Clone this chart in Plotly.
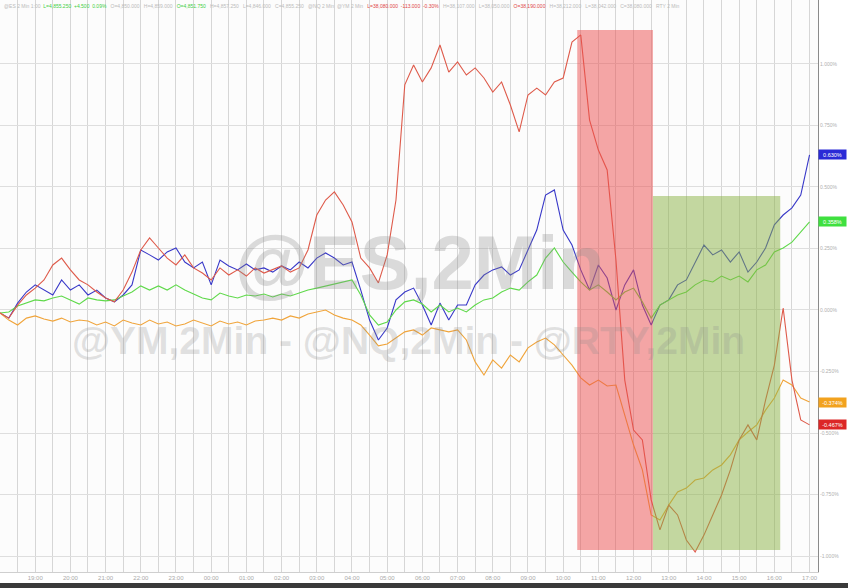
import pandas as pd
import plotly.graph_objects as go

# ---- data (percent change, 15-minute samples) ----
start_time = "2024-01-01 18:00"
n_points = 93
times = pd.date_range(start_time, periods=n_points, freq="15min")

nq_blue = [-0.012, -0.033, 0.028, 0.073, 0.102, 0.081, 0.061, 0.122, 0.081, 0.102,
           0.061, 0.081, 0.049, 0.033, 0.061, 0.102, 0.244, 0.224, 0.203, 0.236,
           0.252, 0.195, 0.171, 0.195, 0.102, 0.203, 0.179, 0.163, 0.187, 0.163,
           0.171, 0.154, 0.179, 0.163, 0.195, 0.171, 0.211, 0.232, 0.211, 0.183,
           0.195, 0.081, -0.041, -0.122, -0.073, 0.041, 0.073, 0.089, 0.020, -0.061,
           0.028, -0.041, 0.020, 0.020, 0.102, 0.142, 0.163, 0.175, 0.142, 0.163,
           0.244, 0.325, 0.467, 0.488, 0.325, 0.264, 0.163, 0.081, 0.183, 0.130,
           0.000, 0.102, 0.163, 0.020, -0.061, 0.020, 0.041, 0.102, 0.122, 0.195,
           0.264, 0.224, 0.244, 0.195, 0.236, 0.154, 0.195, 0.252, 0.346, 0.386,
           0.415, 0.467, 0.630]

es_green = [-0.012, -0.008, 0.016, 0.028, 0.041, 0.037, 0.049, 0.057, 0.041, 0.024,
            0.049, 0.041, 0.037, 0.041, 0.057, 0.073, 0.098, 0.081, 0.098, 0.081,
            0.102, 0.081, 0.065, 0.049, 0.041, 0.069, 0.057, 0.049, 0.061, 0.057,
            0.065, 0.053, 0.065, 0.057, 0.069, 0.081, 0.089, 0.098, 0.106, 0.114,
            0.122, 0.061, -0.020, -0.061, -0.049, 0.000, 0.033, 0.041, 0.024, -0.008,
            0.020, -0.008, 0.008, -0.008, 0.020, 0.041, 0.049, 0.073, 0.089, 0.081,
            0.114, 0.142, 0.211, 0.252, 0.195, 0.154, 0.114, 0.081, 0.102, 0.073,
            0.041, 0.073, 0.089, 0.033, -0.033, 0.020, 0.041, 0.061, 0.073, 0.102,
            0.122, 0.114, 0.138, 0.122, 0.138, 0.114, 0.163, 0.183, 0.236, 0.252,
            0.276, 0.317, 0.358]

ym_orange = [-0.012, -0.041, -0.061, -0.033, -0.024, -0.037, -0.045, -0.033, -0.049, -0.041,
             -0.045, -0.061, -0.049, -0.065, -0.041, -0.053, -0.061, -0.041, -0.057, -0.049,
             -0.065, -0.057, -0.041, -0.053, -0.065, -0.045, -0.057, -0.049, -0.061, -0.045,
             -0.041, -0.033, -0.041, -0.024, -0.033, -0.016, -0.008, 0.000, -0.020, -0.033,
             -0.041, -0.061, -0.102, -0.146, -0.138, -0.114, -0.089, -0.081, -0.102, -0.073,
             -0.081, -0.089, -0.081, -0.122, -0.211, -0.264, -0.203, -0.236, -0.183, -0.211,
             -0.154, -0.130, -0.114, -0.142, -0.183, -0.224, -0.276, -0.305, -0.285, -0.309,
             -0.305, -0.427, -0.549, -0.650, -0.833, -0.854, -0.793, -0.740, -0.724, -0.691,
             -0.683, -0.650, -0.630, -0.589, -0.528, -0.496, -0.467, -0.407, -0.358, -0.285,
             -0.305, -0.358, -0.374]

rty_red = [-0.012, -0.033, 0.020, 0.061, 0.089, 0.122, 0.183, 0.211, 0.163, 0.122,
           0.102, 0.073, 0.049, 0.033, 0.081, 0.154, 0.244, 0.293, 0.252, 0.211,
           0.183, 0.224, 0.171, 0.150, 0.122, 0.171, 0.142, 0.163, 0.138, 0.171,
           0.150, 0.163, 0.179, 0.154, 0.171, 0.244, 0.386, 0.447, 0.480, 0.427,
           0.358, 0.211, 0.171, 0.110, 0.224, 0.447, 0.915, 0.996, 0.927, 0.984,
           1.077, 0.967, 1.008, 0.955, 0.984, 0.943, 0.886, 0.927, 0.833, 0.724,
           0.874, 0.902, 0.874, 0.927, 0.943, 1.089, 1.118, 0.772, 0.650, 0.569,
           0.203, -0.285, -0.488, -0.528, -0.772, -0.894, -0.793, -0.833, -0.935, -0.984,
           -0.915, -0.833, -0.752, -0.650, -0.528, -0.467, -0.528, -0.366, -0.224, 0.008,
           -0.285, -0.447, -0.467]

series_names = ["@NQ,2Min", "@ES,2Min", "@YM,2Min", "@RTY,2Min"]
series_values = [nq_blue, es_green, ym_orange, rty_red]
series_colors = ["#3838c8", "#5fd94a", "#f0a43a", "#de5a4a"]
label_colors = ["#2a2ad6", "#3fe03f", "#f2a21e", "#dc2626"]

y_tick_values = [1.0, 0.75, 0.5, 0.25, 0.0, -0.25, -0.5, -0.75, -1.0]
y_tick_labels = ["1.000%", "0.750%", "0.500%", "0.250%", "0.000%",
                 "-0.250%", "-0.500%", "-0.750%", "-1.000%"]

# shaded periods: (start, end, top, bottom)
red_period = ("2024-01-02 10:24", "2024-01-02 12:33", 1.138, -0.976)
green_period = ("2024-01-02 12:33", "2024-01-02 16:10", 0.463, -0.976)

x_range = ["2024-01-01 18:00", "2024-01-02 17:14:24"]
y_range = [-1.065, 1.26]

fig = go.Figure()
for name, vals, col in zip(series_names, series_values, series_colors):
    fig.add_trace(go.Scatter(x=times, y=vals, mode="lines", name=name,
                             line=dict(color=col, width=1.1), showlegend=False))

for (x0, x1, y1, y0), col in [(red_period, "rgba(236,78,78,0.5)"),
                              (green_period, "rgba(138,178,68,0.5)")]:
    fig.add_shape(type="rect", xref="x", yref="y", x0=x0, x1=x1, y0=y0, y1=y1,
                  fillcolor=col, line=dict(width=0), layer="above")

# watermarks
fig.add_annotation(text="<b>@ES,2Min</b>", xref="paper", yref="paper",
                   x=420 / 818, y=1 - 262 / 572, showarrow=False,
                   font=dict(family="Liberation Sans, Arial", size=76,
                             color="rgba(140,140,140,0.30)"))
fig.add_annotation(text="<b>@YM,2Min - @NQ,2Min - @RTY,2Min</b>", xref="paper", yref="paper",
                   x=408 / 818, y=1 - 340 / 572, showarrow=False,
                   font=dict(family="Liberation Sans, Arial", size=39,
                             color="rgba(140,140,140,0.25)"))

# header line
header = ("<span style='color:#bbbbbb'>@ES 2 Min 1:00  </span>"
          "<span style='color:#3fcf3f'>L=4,855.250  +4.500  0.09%</span>"
          "<span style='color:#bbbbbb'>   O=4,850.000   H=4,859.000   </span>"
          "<span style='color:#3fcf3f'>O=4,851.750</span>"
          "<span style='color:#bbbbbb'>   H=4,857.250   L=4,846.000   C=4,855.250   @NQ 2 Min  </span>"
          "<span style='color:#bbbbbb'>@YM 2 Min   </span>"
          "<span style='color:#e04545'>L=38,080.000  -113.000  -0.30%</span>"
          "<span style='color:#bbbbbb'>   H=38,107.000   L=38,050.000   </span>"
          "<span style='color:#e04545'>O=38,190.000</span>"
          "<span style='color:#bbbbbb'>   H=38,212.000   L=38,042.000   C=38,080.000   RTY 2 Min</span>")
fig.add_annotation(text=header, xref="paper", yref="paper", x=0.003, y=0.999,
                   xanchor="left", yanchor="top", showarrow=False,
                   font=dict(family="Liberation Sans, Arial", size=5))

# right-hand value labels
for vals, col in zip(series_values, label_colors):
    v = vals[-1]
    fig.add_annotation(text=f"{v:.3f}%", xref="paper", yref="y", x=1.0, y=v,
                       xanchor="left", yanchor="middle", showarrow=False,
                       bgcolor=col, width=27, height=9, borderpad=0, align="center",
                       font=dict(family="Liberation Sans, Arial", size=5.5, color="white"))

# bottom dark scrollbar
fig.add_shape(type="rect", xref="paper", yref="paper", x0=0, x1=848 / 818,
              y0=-(588 - 572) / 572, y1=-(583 - 572) / 572,
              fillcolor="#3a3a3a", line=dict(width=0), layer="above")

fig.update_layout(
    width=848, height=588,
    margin=dict(l=0, r=30, t=0, b=16, pad=0),
    paper_bgcolor="white", plot_bgcolor="#fcfcfc",
    xaxis=dict(range=x_range, type="date", tickformat="%H:%M",
               tick0="2024-01-01 19:00", dtick=3600000,
               showgrid=True, gridcolor="#d6d6d6", gridwidth=1,
               minor=dict(dtick=1800000, tick0="2024-01-01 18:30", showgrid=True,
                          gridcolor="#d6d6d6", gridwidth=1),
               showline=True, linecolor="#cfcfcf", zeroline=False,
               ticks="", tickfont=dict(family="Liberation Sans, Arial", size=6, color="#aaaaaa"),
               ticklabelstandoff=0),
    yaxis=dict(range=y_range, side="right", tickvals=y_tick_values, ticktext=y_tick_labels,
               showgrid=True, gridcolor="#dedede", gridwidth=1, zeroline=False,
               showline=True, linecolor="#8a8a8a", linewidth=1, ticks="",
               tickfont=dict(family="Liberation Sans, Arial", size=5, color="#b0b0b0")),
)

fig.write_html("out.html", config={"displayModeBar": False},
               post_script="document.body.style.margin='0';document.body.style.overflow='hidden';")
